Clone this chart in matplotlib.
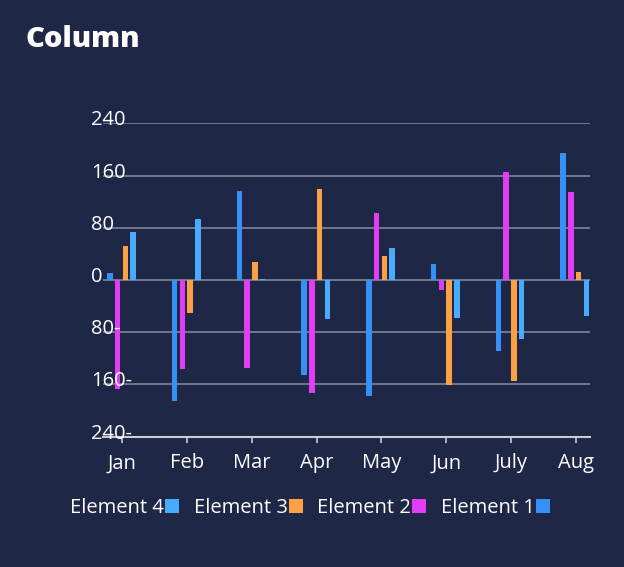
import numpy as np
import matplotlib
matplotlib.use("Agg")
import matplotlib.pyplot as plt
from matplotlib.patches import Patch
import matplotlib.transforms as mtransforms

plt.rcParams['font.family'] = ['Open Sans', 'DejaVu Sans']

# data
months = ['Jan', 'Feb', 'Mar', 'Apr', 'May', 'Jun', 'July', 'Aug']
element1 = [10, -185, 136, -146, -177, 25, -108, 195]
element2 = [-167, -137, -135, -173, 103, -16, 165, 135]
element3 = [52, -50, 27, 140, 37, -161, -154, 12]
element4 = [73, 93, 1, -60, 49, -58, -90, -55]
series_names = ['Element 1', 'Element 2', 'Element 3', 'Element 4']
yticks = [240, 160, 80, 0, -80, -160, -240]

bg = '#1e2746'
colors = ['#3690f6', '#e23cf6', '#fca044', '#48abfc']

fig = plt.figure(figsize=(6.24, 5.67), dpi=100, facecolor=bg)
ax = fig.add_axes([103/624, 1-436.7/567, 487/624, (436.7-123.3)/567])
ax.set_facecolor(bg)

x = np.arange(len(months))
step = 0.12
width = 0.085
all_series = [element1, element2, element3, element4]
for i, (vals, c) in enumerate(zip(all_series, colors)):
    ax.bar(x + (i - 1.5) * step - 0.015, vals, width=width, color=c, zorder=3)

ax.set_xlim(-0.30, 7.22)
ax.set_ylim(-240, 240)

# gridlines
for v in yticks[:-1]:
    ax.axhline(v, color='#7d8697', lw=1.2, zorder=1)

for s in ['top', 'left', 'right']:
    ax.spines[s].set_visible(False)
ax.spines['bottom'].set_color('#c8ccd4')
ax.spines['bottom'].set_linewidth(1.5)

ax.set_yticks([])
ax.set_xticks(x)
ax.set_xticklabels(months, color='white', fontsize=14.5)
ax.tick_params(axis='x', colors='#c8ccd4', length=4, width=1.2, pad=8, labelcolor='white')

# y labels (left aligned, minus after the number)
off = mtransforms.offset_copy(ax.get_yaxis_transform(), fig=fig, x=-12, y=3, units='dots')
for v in yticks:
    lab = f"{abs(v)}-" if v < 0 else str(v)
    ax.text(0, v, lab, transform=off, ha='left', va='center', color='white', fontsize=14.5)

fig.text(25/624, 1-47/567, 'Column', color='white', fontsize=21, fontweight='heavy', va='baseline')

handles = [Patch(facecolor=colors[i], label=series_names[i]) for i in [3, 2, 1, 0]]
leg = fig.legend(handles=handles, loc='center', bbox_to_anchor=(0.497, 1-508/567), ncol=4,
                 frameon=False, markerfirst=False, fontsize=14.5, handlelength=0.7,
                 handleheight=0.7, handletextpad=0.05, columnspacing=0.72)
for t in leg.get_texts():
    t.set_color('white')

fig.savefig('out.png', dpi=100, facecolor=bg)
